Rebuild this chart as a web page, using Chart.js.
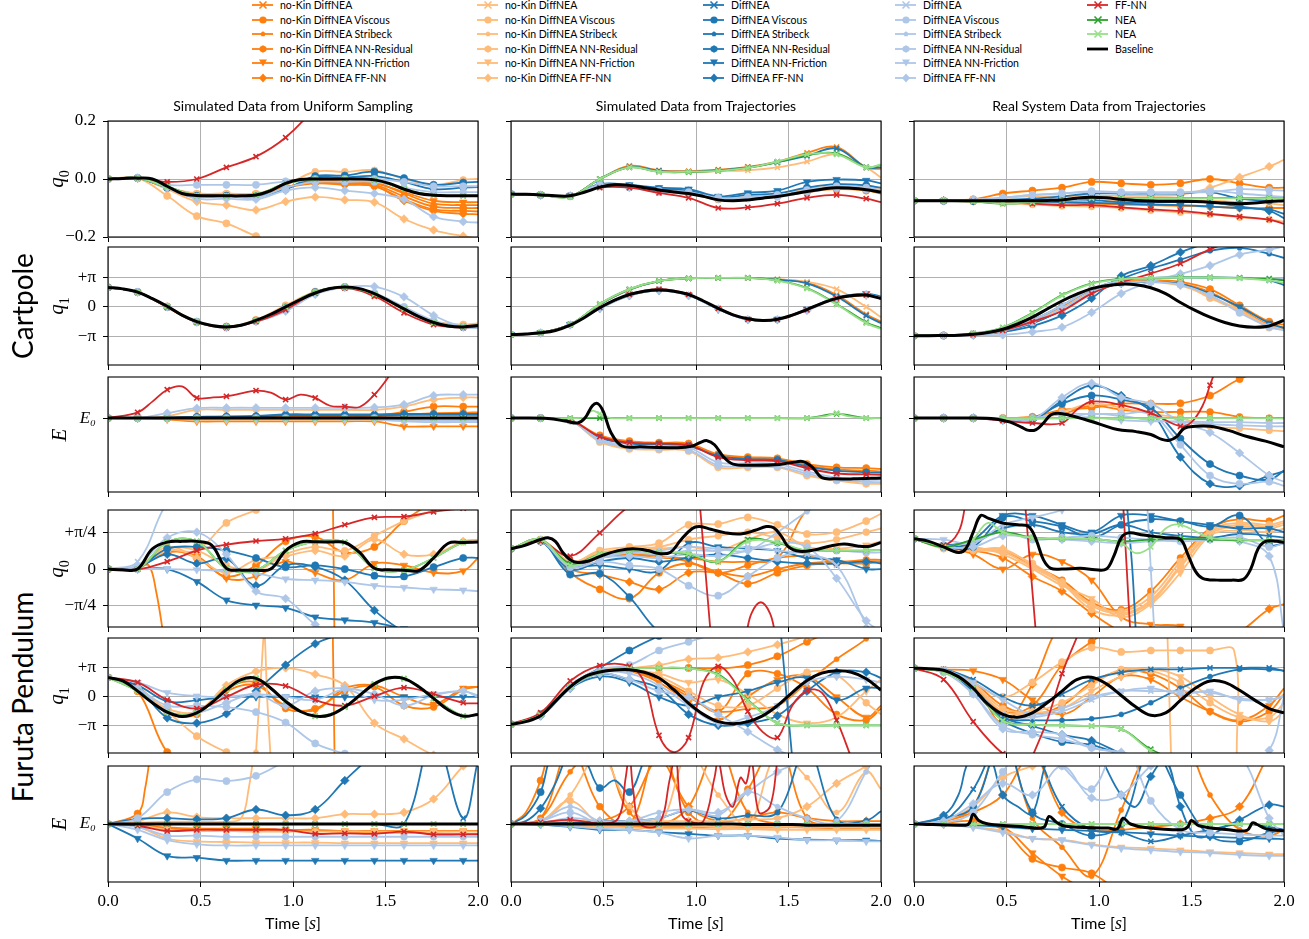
<!DOCTYPE html>
<html><head><meta charset="utf-8">
<script src="https://cdn.jsdelivr.net/npm/chart.js@4.4.0/dist/chart.umd.min.js"></script>
<style>
html,body{margin:0;padding:0;background:#fff;}
body{width:1309px;height:939px;position:relative;overflow:hidden;font-family:Lato,'DejaVu Sans',sans-serif;color:#000;}
canvas{position:absolute;}
.t{position:absolute;white-space:nowrap;line-height:1;}
.title{font-size:14px;transform:translateX(-50%);top:99px;}
.ylab{font-family:'Liberation Serif',serif;font-size:21px;font-style:italic;transform:translate(-50%,-50%) rotate(-90deg);}
.ylab sub{font-style:normal;font-size:14px;}
.rowlab{font-size:28px;transform:translate(-50%,-50%) rotate(-90deg);}
.xlab{font-size:16px;transform:translateX(-50%);top:914px;}
.leg{position:absolute;font-size:10.5px;height:14px;line-height:14px;white-space:nowrap;}
.leg svg{position:absolute;left:0;top:2px;}
.leg span{position:absolute;left:28px;top:0;}
</style></head><body>
<script>
// ---------------- DATA ----------------
const T  = [0,0.16,0.32,0.48,0.64,0.8,0.96,1.12,1.28,1.44,1.6,1.76,1.92,2.0];
const TB = [0,0.08,0.16,0.24,0.32,0.4,0.48,0.56,0.64,0.72,0.8,0.88,0.96,1.04,1.12,1.2,1.28,1.36,1.44,1.52,1.6,1.68,1.76,1.84,1.92,2.0];
const xTicks = [0,0.5,1,1.5,2];
const xTickLabels = ['0.0','0.5','1.0','1.5','2.0'];
const cpQ0Ticks = [-0.2,0,0.2];
const cpQ0Labels = ['\u22120.2','0.0','0.2'];
const piTicks = [-1,0,1];
const piLabels = ['\u2212\u03c0','0','+\u03c0'];
const pi4Labels = ['\u2212\u03c0/4','0','+\u03c0/4'];
const eTicks = [0];
const eLabels = ['E\u2080'];
const colTitles = ['Simulated Data from Uniform Sampling','Simulated Data from Trajectories','Real System Data from Trajectories'];

// Cartpole, uniform sampling
const cpUniQ0 = [
 ['K',[0,0.002,0.003,0,-0.025,-0.05,-0.057,-0.058,-0.058,-0.058,-0.055,-0.04,-0.015,-0.002,0,0,0,0,-0.003,-0.015,-0.035,-0.05,-0.056,-0.058,-0.058,-0.058]],
 ['R',[0,0.003,-0.01,0,0.04,0.077,0.143,0.25,0.4,0.55,0.7,0.85,1,1.1]],
 ['B1',[0,0.003,-0.058,-0.128,-0.153,-0.197,-0.23,-0.3,-0.35,-0.4,-0.45,-0.5,-0.55,-0.6]],
 ['B5',[0,0.003,-0.035,-0.078,-0.09,-0.107,-0.078,-0.062,-0.072,-0.08,-0.138,-0.176,-0.197,-0.205]],
 ['B3',[0,0.003,-0.03,-0.05,-0.05,-0.05,-0.02,0.025,0.025,0.03,0,-0.02,-0.003,0]],
 ['D5',[0,0.003,-0.03,-0.068,-0.068,-0.07,-0.04,-0.029,-0.04,-0.05,-0.07,-0.13,-0.147,-0.15]],
 ['D1',[0,0.003,-0.02,-0.02,-0.02,-0.02,-0.008,0,0,0,-0.01,-0.025,-0.025,-0.025]],
 ['D3',[0,0.003,-0.025,-0.06,-0.06,-0.065,-0.03,-0.01,-0.01,-0.01,-0.03,-0.045,-0.045,-0.045]],
 ['C1',[0,0.003,-0.03,-0.058,-0.058,-0.06,-0.035,0.01,0.012,0.025,0.003,-0.02,-0.012,-0.01]],
 ['C3',[0,0.003,-0.03,-0.058,-0.058,-0.06,-0.035,0.005,0.005,0.01,-0.01,-0.035,-0.03,-0.028]],
 ['A1',[0,0.003,-0.03,-0.055,-0.055,-0.055,-0.03,-0.01,-0.015,-0.02,-0.06,-0.095,-0.1,-0.1]],
 ['A2',[0,0.003,-0.03,-0.055,-0.055,-0.055,-0.03,-0.005,-0.01,-0.012,-0.05,-0.085,-0.09,-0.09]],
 ['A3',[0,0.003,-0.03,-0.052,-0.052,-0.052,-0.028,-0.012,-0.018,-0.025,-0.07,-0.105,-0.11,-0.112]],
 ['A4',[0,0.003,-0.03,-0.052,-0.052,-0.052,-0.028,-0.008,-0.01,-0.015,-0.045,-0.075,-0.08,-0.08]],
 ['A5',[0,0.003,-0.03,-0.055,-0.055,-0.055,-0.03,-0.015,-0.02,-0.025,-0.075,-0.11,-0.12,-0.122]],
 ['G',[0,0.003,-0.026,-0.057,-0.058,-0.055,-0.015,0,0,-0.003,-0.035,-0.056,-0.058,-0.058]],
 ['L',[0,0.003,-0.027,-0.057,-0.058,-0.054,-0.016,0,0.001,-0.002,-0.034,-0.056,-0.058,-0.058]]
];
const cpUniQ1 = [
 ['K',[0.66,0.61,0.5,0.28,0.02,-0.28,-0.5,-0.63,-0.68,-0.62,-0.46,-0.25,0,0.25,0.47,0.62,0.67,0.62,0.45,0.2,-0.07,-0.33,-0.53,-0.65,-0.68,-0.63]],
 ['R',[0.66,0.5,-0.02,-0.52,-0.7,-0.5,-0.1,0.47,0.64,0.36,-0.2,-0.6,-0.7,-0.66]],
 ['D5',[0.66,0.5,0,-0.52,-0.7,-0.5,-0.15,0.42,0.66,0.69,0.34,-0.29,-0.69,-0.72]],
 ['B1',[0.66,0.5,0.02,-0.5,-0.66,-0.44,0.05,0.52,0.66,0.42,-0.05,-0.48,-0.6,-0.56]],
 ['A1',[0.66,0.5,0,-0.51,-0.68,-0.46,0,0.5,0.67,0.42,-0.08,-0.52,-0.66,-0.6]],
 ['C1',[0.66,0.5,0,-0.51,-0.68,-0.47,-0.02,0.5,0.67,0.44,-0.04,-0.5,-0.68,-0.64]],
 ['D1',[0.66,0.5,0,-0.51,-0.69,-0.48,-0.05,0.48,0.67,0.47,0,-0.47,-0.68,-0.66]],
 ['G',[0.66,0.5,0,-0.51,-0.68,-0.46,0,0.5,0.67,0.43,-0.07,-0.53,-0.68,-0.63]],
 ['L',[0.66,0.5,0.01,-0.5,-0.68,-0.46,0,0.5,0.67,0.43,-0.07,-0.53,-0.68,-0.63]]
];
const cpUniE = [
 ['K',[0,0,0,0,0,0,0,0,0,0,0,0,0,0,0,0,0,0,0,0,0,0,0,0,0,0]],
 ['R',[0,0.14,0.4,0.69,0.77,0.49,0.5,0.53,0.6,0.67,0.62,0.45,0.57,0.49,0.3,0.28,0.27,0.57,0.9,1.3],[0,0.16,0.24,0.32,0.4,0.48,0.56,0.64,0.72,0.8,0.88,0.96,1.04,1.12,1.2,1.28,1.36,1.44,1.5,1.56]],
 ['D5',[0,0,0.12,0.24,0.25,0.25,0.25,0.25,0.25,0.26,0.33,0.55,0.57,0.57]],
 ['B5',[0,0,0.05,0.2,0.2,0.2,0.2,0.2,0.2,0.2,0.28,0.45,0.5,0.5]],
 ['A1',[0,0,0,0.03,0.03,0.03,0.04,0.04,0.05,0.06,0.15,0.28,0.28,0.28]],
 ['A3',[0,0,0,0.02,0.02,0.02,0.03,0.03,0.03,0.04,0.08,0.12,0.13,0.14]],
 ['C1',[0,0,0,0.02,0.03,0.04,0.07,0.07,0.07,0.07,0.08,0.08,0.08,0.08]],
 ['C5',[0,0,0.01,0.03,0.04,0.05,0.09,0.09,0.09,0.09,0.1,0.1,0.1,0.1]],
 ['A4',[0,0,-0.03,-0.08,-0.08,-0.08,-0.08,-0.08,-0.08,-0.08,-0.2,-0.2,-0.2,-0.2]],
 ['B4',[0,0,-0.02,-0.05,-0.05,-0.05,-0.05,-0.05,-0.05,-0.05,-0.06,-0.07,-0.07,-0.07]],
 ['D4',[0,0,-0.01,-0.02,-0.02,-0.02,-0.02,-0.02,-0.03,-0.03,-0.08,-0.1,-0.1,-0.1]],
 ['D1',[0,0,0,0,0,0,0,0,0,0,-0.04,-0.05,-0.05,-0.05]],
 ['G',[0,0,0,0,0,0,0,0,0,0,0,0,0,0]],
 ['L',[0,0,0,0,0,0,0,0,0,0,0,0,0,0]]
];

// Cartpole, simulated trajectories
const cpTrajQ0 = [
 ['K',[-0.052,-0.053,-0.055,-0.058,-0.058,-0.045,-0.028,-0.02,-0.022,-0.03,-0.038,-0.045,-0.05,-0.06,-0.072,-0.075,-0.072,-0.066,-0.06,-0.052,-0.043,-0.035,-0.03,-0.032,-0.037,-0.045]],
 ['A0',[-0.052,-0.055,-0.06,0,0.045,0.03,0.027,0.032,0.042,0.06,0.09,0.11,0.04,0.035]],
 ['C0',[-0.052,-0.055,-0.06,0,0.042,0.028,0.025,0.03,0.04,0.058,0.08,0.105,0.04,0.04]],
 ['G',[-0.052,-0.055,-0.06,0,0.04,0.025,0.024,0.028,0.038,0.058,0.082,0.088,0.04,0.048]],
 ['L',[-0.052,-0.055,-0.062,0,0.04,0.025,0.025,0.028,0.038,0.06,0.085,0.085,0.04,0.05]],
 ['B0',[-0.052,-0.055,-0.06,0,0.04,0.025,0.024,0.027,0.03,0.04,0.06,0.085,0.04,0.005]],
 ['C4',[-0.052,-0.055,-0.058,-0.018,-0.02,-0.03,-0.035,-0.06,-0.048,-0.04,-0.01,-0.002,-0.005,-0.015]],
 ['R',[-0.052,-0.055,-0.058,-0.03,-0.03,-0.048,-0.065,-0.1,-0.098,-0.085,-0.065,-0.055,-0.068,-0.08]],
 ['D1',[-0.052,-0.055,-0.058,-0.02,-0.028,-0.04,-0.045,-0.065,-0.062,-0.055,-0.038,-0.025,-0.03,-0.038]],
 ['D3',[-0.052,-0.055,-0.058,-0.025,-0.03,-0.045,-0.05,-0.07,-0.068,-0.062,-0.045,-0.032,-0.037,-0.045]],
 ['C1',[-0.052,-0.055,-0.058,-0.02,-0.025,-0.035,-0.04,-0.065,-0.055,-0.05,-0.03,-0.018,-0.022,-0.03]],
 ['B4',[-0.052,-0.055,-0.058,-0.022,-0.03,-0.04,-0.045,-0.068,-0.06,-0.05,-0.035,-0.025,-0.025,-0.035]],
 ['A1',[-0.052,-0.055,-0.058,-0.025,-0.028,-0.042,-0.05,-0.07,-0.065,-0.058,-0.045,-0.035,-0.04,-0.05]]
];
const cpTrajQ1 = [
 ['K',[-0.94,-0.92,-0.88,-0.8,-0.62,-0.35,-0.03,0.23,0.42,0.53,0.57,0.53,0.42,0.2,-0.05,-0.27,-0.4,-0.46,-0.42,-0.28,-0.09,0.12,0.29,0.38,0.4,0.28]],
 ['G',[-0.94,-0.88,-0.6,0.1,0.6,0.88,0.97,0.98,0.98,0.9,0.64,0.1,-0.52,-0.72]],
 ['L',[-0.94,-0.88,-0.6,0.1,0.6,0.88,0.97,0.98,0.98,0.89,0.62,0.08,-0.55,-0.75]],
 ['C0',[-0.94,-0.88,-0.6,0.08,0.58,0.87,0.97,0.98,0.98,0.92,0.8,0.35,-0.3,-0.55]],
 ['A0',[-0.94,-0.88,-0.6,0.08,0.58,0.87,0.97,0.98,0.98,0.93,0.82,0.4,-0.25,-0.5]],
 ['B0',[-0.94,-0.88,-0.6,0.08,0.58,0.87,0.97,0.98,0.98,0.94,0.85,0.6,0,-0.35]],
 ['R',[-0.94,-0.88,-0.6,-0.02,0.42,0.6,0.42,-0.05,-0.42,-0.43,-0.1,0.3,0.4,0.28]],
 ['C4',[-0.94,-0.88,-0.6,-0.05,0.38,0.55,0.4,-0.08,-0.43,-0.42,-0.08,0.32,0.45,0.35]],
 ['D5',[-0.94,-0.88,-0.61,-0.06,0.38,0.55,0.38,-0.07,-0.43,-0.43,-0.12,0.28,0.42,0.3]],
 ['B4',[-0.94,-0.88,-0.6,-0.04,0.4,0.56,0.4,-0.06,-0.42,-0.44,-0.1,0.29,0.38,0.3]]
];
const cpTrajE = [
 ['K',[0,-0.01,-0.08,-0.12,0,0.3,0.35,0.15,-0.35,-0.68,-0.7,-0.72,-0.68,-0.6,-0.55,-0.65,-0.95,-1.12,-1.15,-1.13,-1.08,-1.06,-1.2,-1.45,-1.48,-1.48,-1.46],[0,0.2,0.3,0.36,0.4,0.44,0.47,0.5,0.54,0.6,0.7,0.9,0.98,1.02,1.06,1.1,1.15,1.2,1.3,1.45,1.52,1.58,1.63,1.68,1.75,1.85,2.0]],
 ['G',[0,0,0,0,0,0,0,0,0,0,0,0.1,0,0]],
 ['L',[0,0,0,0.02,0.18,0.1,0,0,0,0,0,0,0,0,0.05,0.12,0.05,0,0],[0,0.16,0.32,0.4,0.44,0.48,0.54,0.64,0.8,0.96,1.12,1.28,1.44,1.6,1.7,1.76,1.82,1.92,2.0]],
 ['A1',[0,0,-0.05,-0.42,-0.56,-0.6,-0.62,-0.88,-0.95,-0.98,-1.12,-1.2,-1.22,-1.24]],
 ['R',[0,0,-0.05,-0.45,-0.6,-0.62,-0.66,-0.95,-1.03,-1.05,-1.22,-1.35,-1.37,-1.38]],
 ['C1',[0,0,-0.05,-0.48,-0.62,-0.64,-0.68,-0.92,-1.0,-1.02,-1.18,-1.28,-1.32,-1.33]],
 ['D1',[0,0,-0.06,-0.55,-0.72,-0.75,-0.78,-1.15,-1.17,-1.18,-1.35,-1.5,-1.55,-1.56]],
 ['B1',[0,0,-0.06,-0.58,-0.75,-0.77,-0.8,-1.2,-1.2,-1.2,-1.4,-1.52,-1.6,-1.6]],
 ['D3',[0,0,-0.05,-0.52,-0.68,-0.7,-0.72,-1.08,-1.1,-1.12,-1.3,-1.45,-1.5,-1.5]],
 ['A3',[0,0,-0.05,-0.45,-0.58,-0.62,-0.64,-0.9,-0.98,-1.0,-1.15,-1.25,-1.28,-1.3]]
];

// Cartpole, real system
const cpRealQ0 = [
 ['K',[-0.075,-0.075,-0.075,-0.075,-0.075,-0.075,-0.075,-0.075,-0.075,-0.074,-0.072,-0.066,-0.063,-0.065,-0.07,-0.074,-0.076,-0.077,-0.077,-0.078,-0.08,-0.083,-0.085,-0.083,-0.078,-0.075]],
 ['B5',[-0.075,-0.075,-0.07,-0.065,-0.06,-0.06,-0.058,-0.058,-0.058,-0.055,-0.03,0.006,0.043,0.066]],
 ['A1',[-0.075,-0.075,-0.07,-0.05,-0.04,-0.03,-0.01,-0.015,-0.02,-0.015,0,-0.015,-0.03,-0.03]],
 ['D1',[-0.075,-0.075,-0.072,-0.065,-0.055,-0.05,-0.042,-0.045,-0.045,-0.045,-0.045,-0.035,-0.038,-0.04]],
 ['D3',[-0.075,-0.075,-0.072,-0.065,-0.055,-0.05,-0.045,-0.048,-0.048,-0.048,-0.04,-0.05,-0.058,-0.062]],
 ['C1',[-0.075,-0.075,-0.075,-0.072,-0.068,-0.06,-0.05,-0.05,-0.05,-0.05,-0.045,-0.068,-0.075,-0.075]],
 ['C5',[-0.075,-0.075,-0.075,-0.074,-0.072,-0.07,-0.072,-0.08,-0.08,-0.08,-0.08,-0.095,-0.11,-0.135]],
 ['C4',[-0.075,-0.075,-0.075,-0.076,-0.078,-0.08,-0.082,-0.085,-0.088,-0.09,-0.095,-0.1,-0.105,-0.12]],
 ['G',[-0.075,-0.075,-0.078,-0.085,-0.08,-0.072,-0.065,-0.066,-0.066,-0.066,-0.066,-0.066,-0.066,-0.066]],
 ['L',[-0.075,-0.075,-0.078,-0.084,-0.08,-0.072,-0.066,-0.067,-0.067,-0.067,-0.067,-0.067,-0.067,-0.066]],
 ['R',[-0.075,-0.075,-0.077,-0.08,-0.085,-0.09,-0.09,-0.098,-0.105,-0.11,-0.12,-0.13,-0.14,-0.155]],
 ['B3',[-0.075,-0.075,-0.077,-0.082,-0.088,-0.093,-0.095,-0.1,-0.108,-0.115,-0.122,-0.132,-0.14,-0.147]],
 ['A3',[-0.075,-0.075,-0.076,-0.078,-0.08,-0.082,-0.085,-0.088,-0.09,-0.093,-0.095,-0.1,-0.1,-0.1]],
 ['B4',[-0.075,-0.075,-0.076,-0.078,-0.078,-0.08,-0.078,-0.07,-0.07,-0.072,-0.075,-0.08,-0.085,-0.09]]
];
const cpRealQ1 = [
 ['K',[-0.98,-0.98,-0.97,-0.96,-0.93,-0.87,-0.76,-0.58,-0.35,-0.07,0.2,0.43,0.62,0.72,0.77,0.75,0.65,0.45,0.15,-0.12,-0.35,-0.53,-0.65,-0.69,-0.65,-0.45]],
 ['G',[-0.98,-0.97,-0.9,-0.7,-0.2,0.4,0.8,0.95,0.98,1.0,1.0,0.98,0.95,0.9]],
 ['L',[-0.98,-0.97,-0.9,-0.7,-0.22,0.38,0.78,0.94,0.98,0.99,0.99,0.97,0.9,0.82]],
 ['C5',[-0.98,-0.97,-0.95,-0.85,-0.65,-0.29,0.29,1.05,1.4,1.85,2.2,2.5,2.5,2.5]],
 ['R',[-0.98,-0.97,-0.94,-0.8,-0.5,-0.14,0.45,0.83,1.13,1.47,1.95,2.3,2.5,2.5]],
 ['D5',[-0.98,-0.97,-0.96,-0.95,-0.85,-0.69,-0.19,0.45,0.85,1.12,1.4,1.77,1.94,2.05]],
 ['C2',[-0.98,-0.97,-0.94,-0.82,-0.55,-0.1,0.5,0.95,1.3,1.6,1.9,2.0,1.8,1.66]],
 ['D0',[-0.98,-0.97,-0.93,-0.78,-0.45,0.05,0.6,0.9,0.98,0.99,1.0,0.99,0.97,0.96]],
 ['C0',[-0.98,-0.97,-0.93,-0.78,-0.45,0.05,0.6,0.9,0.98,1.0,0.99,0.98,0.9,0.74]],
 ['A1',[-0.98,-0.97,-0.94,-0.8,-0.48,0,0.55,0.85,0.9,0.85,0.6,0.05,-0.5,-0.6]],
 ['B1',[-0.98,-0.97,-0.94,-0.81,-0.5,-0.05,0.52,0.82,0.86,0.78,0.3,-0.15,-0.7,-0.75]],
 ['D1',[-0.98,-0.97,-0.94,-0.82,-0.52,-0.08,0.5,0.8,0.85,0.75,0.4,-0.2,-0.68,-0.8]],
 ['A3',[-0.98,-0.97,-0.94,-0.8,-0.48,0,0.55,0.85,0.88,0.8,0.5,-0.05,-0.62,-0.68]],
 ['B4',[-0.98,-0.97,-0.94,-0.81,-0.5,-0.05,0.52,0.8,0.84,0.72,0.35,-0.1,-0.65,-0.7]],
 ['C4',[-0.98,-0.97,-0.94,-0.82,-0.55,-0.1,0.48,0.8,0.85,0.78,0.45,0,-0.55,-0.72]]
];
const cpRealE = [
 ['K',[0,0,-0.02,-0.1,-0.22,-0.3,-0.28,-0.12,0.08,0.12,0.07,-0.03,-0.14,-0.28,-0.33,-0.4,-0.52,-0.54,-0.45,-0.25,-0.2,-0.2,-0.3,-0.45,-0.56,-0.7],[0,0.3,0.44,0.52,0.58,0.62,0.66,0.7,0.74,0.78,0.84,0.92,1.0,1.1,1.2,1.28,1.34,1.38,1.42,1.46,1.52,1.6,1.7,1.8,1.9,2.0]],
 ['R',[0,0,0,-0.06,-0.12,-0.12,0.2,0.4,0.32,0.12,-0.2,-0.1,0.3,0.8,1.3],[0,0.16,0.32,0.48,0.64,0.8,0.88,0.96,1.12,1.28,1.44,1.5,1.56,1.6,1.64]],
 ['C5',[0,0,0,-0.05,-0.05,0.42,0.79,0.55,0.16,-0.95,-1.6,-1.65,-1.4,-1.3]],
 ['D5',[0,0,0,-0.05,-0.03,0.5,0.85,0.5,0.35,-0.1,-0.35,-0.85,-1.4,-1.55]],
 ['C1',[0,0,0,-0.04,0,0.35,0.55,0.45,0.25,-0.5,-1.12,-1.4,-1.5,-1.28]],
 ['D1',[0,0,0,-0.03,0,0.1,0.1,0.1,0.1,-0.65,-1.4,-1.6,-1.55,-1.65]],
 ['A1',[0,0,0,0,0.03,0.2,0.25,0.35,0.35,0.36,0.55,0.95,1.2,1.3]],
 ['A3',[0,0,0,0,0.02,0.1,0.3,0.2,0.15,0.15,0.15,0.03,0,0]],
 ['B3',[0,0,0,0,0,0.15,0.35,0.25,0.1,0,-0.2,-0.25,-0.3,-0.32]],
 ['D3',[0,0,0,0,0,0,0.1,0.05,-0.05,-0.1,-0.15,-0.18,-0.2,-0.2]],
 ['D4',[0,0,0,-0.02,-0.02,0,0.02,-0.05,-0.08,-0.08,-0.1,-0.1,-0.12,-0.12]],
 ['G',[0,0,0,0,0,0,0,0,0,0,0,0,0,0]],
 ['L',[0,0,0,0,0,0,0,0,0,0,0,0,0,-0.01]]
];

// Furuta pendulum, uniform sampling  (q0 in units of pi/4, q1 in units of pi)
const fpUniQ0 = [
 ['K',[0,-0.02,0,0.55,0.73,0.75,0.75,0.65,0.02,-0.03,-0.03,0,0.5,0.73,0.74,0.73,0.72,0.45,0.02,-0.02,-0.03,-0.04,0.3,0.7,0.72,0.73]],
 ['R',[0,-0.01,0.2,0.5,0.66,0.76,0.82,0.96,1.2,1.4,1.42,1.55,1.65,1.7]],
 ['C4',[0,0,0,-0.34,-0.84,-0.98,-1.05,-1.3,-1.38,-1.45,-1.62,-1.7,-1.8,-1.85]],
 ['D4',[0,0,0,-0.02,-0.05,-0.12,-0.27,-0.3,-0.35,-0.45,-0.5,-0.55,-0.57,-0.6]],
 ['D0',[0,0.2,1.8,2.5,2.5,2.5,2.5,2.5,2.5,2.5,2.5,2.5,2.5,2.5]],
 ['D5',[0,0.1,0.85,1.0,0.4,-0.6,-0.8,-1.5,-1.9,-2,-2,-2,-2,-2]],
 ['C5',[0,0.05,0.4,0.15,0.28,-0.45,0.1,0.06,-0.3,-1.12,-1.7,-2,-2,-2]],
 ['C1',[0,0.05,0.55,0.6,0.5,0.3,0.05,0.1,0,-0.18,-0.2,0.05,0.3,0.3]],
 ['A3',[0,0.03,0.1,-0.6,-1.8],[0,0.16,0.22,0.26,0.3]],
 ['A1',[0,0.05,0.5,0.3,-0.2,0.1,0.75,0.87,0.45,0.6,1.3,1.8,2,2]],
 ['A4',[0,0.05,0.45,0.35,-0.25,-0.2,0.2,-0.1,-0.3,0.15,0.1,-0.1,-0.05,0.3]],
 ['A2',[2.2,0,-2.2],[1.215,1.22,1.225]],
 ['B1',[0,0.05,0.5,0.5,1.25,1.6,2,2,2,2,2,2,2,2]],
 ['B5',[0,0.05,0.6,0.3,-0.1,0.25,0.35,0.5,0.35,0.8,0.4,0.4,0.75,0.8]],
 ['B3',[0,0.05,0.55,0.5,0.1,-0.05,0.4,0.6,0.5,0.9,1.3,1.6,2,2]],
 ['G',[0,0,0.73,0.75,0.02,-0.03,0.5,0.74,0.72,0.02,-0.03,0.3,0.72,0.73]],
 ['L',[0,0,0.73,0.75,0.02,-0.03,0.5,0.74,0.72,0.02,-0.03,0.3,0.72,0.73]]
];
const fpUniQ1 = [
 ['K',[0.67,0.55,0.2,-0.2,-0.52,-0.67,-0.55,-0.2,0.25,0.6,0.64,0.3,-0.15,-0.5,-0.66,-0.62,-0.35,0.05,0.45,0.66,0.63,0.35,-0.05,-0.45,-0.66,-0.6]],
 ['R',[0.67,0.5,-0.1,-0.4,0,0.42,0.38,-0.1,-0.3,0.03,0.32,0.1,-0.2,-0.22]],
 ['C5',[0.67,0.3,-0.72,-0.9,-0.58,0.2,1.1,1.83,2.2,2.5,2.5,2.5,2.5,2.5]],
 ['D1',[0.67,0.3,-0.3,-0.3,-0.35,-0.52,-0.88,-1.6,-1.95,-2.2,-2.2,-2.2,-2.2,-2.2]],
 ['B1',[0.67,0.25,-0.5,-1.35,-1.9,-2.3,-2.5,-2.5,-2.5,-2.5,-2.5,-2.5,-2.5,-2.5]],
 ['A1',[0.67,0.2,-1.9,-2.5,-2.5,-2.5,-2.5,-2.5,-2.5,-2.5,-2.5,-2.5,-2.5,-2.5]],
 ['B5',[0.67,0.3,-0.4,-0.5,0.4,0.88,1.0,0.78,0.4,-0.9,-1.45,-2.0,-2.3,-2.4]],
 ['D4',[0.67,0.5,0.15,0.03,0,0.1,0,-0.1,0.25,-0.1,-0.1,0.1,0.2,0.05]],
 ['C4',[0.67,0.4,-0.15,-0.12,0,0,0,0,0,0,0,0,0,0]],
 ['A3',[0.67,0.3,-0.55,-0.6,0.3,0.5,-0.4,-0.4,0.2,0.35,-0.3,-0.35,0.25,0.35]],
 ['D5',[0.67,0.3,-0.5,-0.55,-0.2,0.1,-0.3,0.2,0.3,0.1,-0.3,0.05,0.2,0]],
 ['A4',[0.67,0.35,-0.5,-0.55,0.2,0.4,-0.3,-0.45,0.3,0.4,0,-0.25,0.3,0.35]],
 ['A2',[2.2,0,-2.2],[1.215,1.22,1.225]],
 ['B2',[-1.9,1.0,2.2,0,-2.2],[0.8,0.83,0.845,0.86,0.88]],
 ['G',[0.67,0.2,-0.52,-0.55,0.25,0.64,-0.15,-0.66,-0.35,0.45,0.63,-0.05,-0.66,-0.6]],
 ['L',[0.67,0.2,-0.52,-0.55,0.25,0.64,-0.15,-0.66,-0.35,0.45,0.63,-0.05,-0.66,-0.6]]
];
const fpUniE = [
 ['K',[0,0,0,0,0,0,0,0,0,0,0,0,0,0,0,0,0,0,0,0,0,0,0,0,0,0]],
 ['C5',[0,0.09,0.1,0.08,0.1,0.25,0.15,0.25,0.75,1.2,1.5,1.5,1.5,1.5]],
 ['D1',[0,0.1,0.55,0.77,0.74,0.83,1.1,1.5,1.5,1.5,1.5,1.5,1.5,1.5]],
 ['A1',[0,0.18,0.6,1.5],[0,0.16,0.2,0.24]],
 ['C0',[0,0,0,0,0,0,0,0,0,0,0,1.5,0.1,1.1]],
 ['B5',[0,0.05,0.2,0.12,0.1,0.1,0.1,0.1,0.17,0.17,0.2,0.43,1.0,1.2]],
 ['B0',[0,0.02,0.04,0.04,0.04,0.1,0.6,1.5],[0,0.16,0.32,0.48,0.64,0.72,0.76,0.8]],
 ['R',[0,-0.03,-0.12,-0.1,-0.1,-0.1,-0.1,-0.17,-0.16,-0.17,-0.13,-0.18,-0.18,-0.18]],
 ['A3',[0,-0.02,-0.08,-0.1,-0.1,-0.12,-0.12,-0.12,-0.14,-0.15,-0.15,-0.16,-0.17,-0.17]],
 ['D3',[0,-0.05,-0.2,-0.2,-0.22,-0.22,-0.22,-0.22,-0.22,-0.22,-0.22,-0.22,-0.22,-0.22]],
 ['B4',[0,-0.05,-0.25,-0.3,-0.31,-0.32,-0.32,-0.32,-0.33,-0.33,-0.33,-0.33,-0.33,-0.33]],
 ['D4',[0,-0.1,-0.28,-0.35,-0.37,-0.37,-0.37,-0.37,-0.37,-0.37,-0.37,-0.37,-0.37,-0.37]],
 ['C4',[0,-0.25,-0.55,-0.58,-0.63,-0.63,-0.63,-0.63,-0.63,-0.63,-0.63,-0.63,-0.63,-0.63]],
 ['B3',[0,-0.02,-0.1,-0.12,-0.12,-0.13,-0.13,-0.13,-0.13,-0.13,-0.13,-0.13,-0.13,-0.13]],
 ['A4',[0,-0.02,-0.06,-0.08,-0.08,-0.08,-0.1,-0.1,-0.12,-0.12,-0.12,-0.12,-0.12,-0.12]],
 ['G',[0,0,0,0,0,0,0,0,0,0,0,0,0,0]],
 ['L',[0,0,0,0,0,0,0,0,0,0,0,0,0,0]]
];

// Furuta pendulum, simulated trajectories
const fpTrajQ0 = [
 ['K',[0.55,0.65,0.8,0.85,0.75,0.45,0.25,0.18,0.22,0.38,0.5,0.55,0.5,0.42,0.45,0.8,1.1,1.15,1.08,0.98,0.95,1.05,1.15,1.12,0.9,0.6,0.48,0.52,0.62,0.68,0.62,0.62,0.72],[0,0.08,0.16,0.2,0.24,0.28,0.32,0.36,0.42,0.5,0.58,0.66,0.74,0.8,0.86,0.92,0.98,1.02,1.08,1.16,1.24,1.32,1.38,1.42,1.46,1.5,1.56,1.64,1.72,1.8,1.88,1.94,2.0]],
 ['R',[0.55,0.75,0.35,0.98,1.7,2,2,2,2,2,2,2,2,2]],
 ['R',[1.8,0,-1.8],[1.02,1.05,1.08]],
 ['R',[-1.8,-1.2,-0.9,-1.2,-1.8],[1.27,1.3,1.35,1.4,1.43]],
 ['G',[0.55,0.8,0.15,0.4,0.5,0.45,0.4,0.2,0.8,0.7,0.5,0.5,0.5,0.52]],
 ['L',[0.55,0.8,0.1,0.4,0.5,0.45,0.42,0.2,0.75,0.72,0.5,0.5,0.5,0.52]],
 ['B1',[0.55,0.8,0.2,0.5,0.6,0.7,1.2,1.22,1.4,1.2,0.95,1.0,1.3,1.5]],
 ['A2',[0.55,0.8,0.1,0.3,0.4,0.3,0.3,0.2,0.2,0.3,1.6,2,2,2]],
 ['D2',[0.55,0.8,0.1,0.3,0.45,0.5,0.6,0.55,0.5,1.0,1.55,2,2,2]],
 ['C1',[0.55,0.75,-0.15,-0.12,-0.76,-1.7,-2,-2,-2,-2,-2,-2,-2,-2]],
 ['A1',[0.55,0.75,-0.1,-0.55,-0.8,-0.1,0.15,-0.1,-0.4,-0.1,0.1,0.15,0.15,0.2]],
 ['A5',[0.55,0.75,0,-0.15,-0.35,-0.55,-0.1,-0.1,-0.2,0,0.15,0.2,0.2,0.2]],
 ['D1',[0.55,0.75,0.05,0.2,0.1,0,-0.45,-0.72,-0.2,0.3,0.5,0.5,0.45,0.45]],
 ['D5',[0.55,0.78,0.1,0.3,0.35,0.3,0.4,0.35,0.5,0.7,0.6,-0.25,-1.4,-1.7]],
 ['C5',[0.55,0.75,0,0.2,0.3,0.2,0.3,0.4,0.3,0.2,0.15,0.15,0.2,0.15]],
 ['C4',[0.55,0.75,0.1,0.1,0,-0.05,0.7,0.6,0.55,0.5,0.3,0.25,0,0]],
 ['D0',[0.55,0.78,0.15,0.35,0.45,0.4,0.5,0.5,0.6,0.5,0.4,0.1,-1.5,-2]],
 ['B3',[0.55,0.8,0.2,0.45,0.55,0.6,0.8,0.9,1.0,0.85,0.7,0.8,1.0,1.1]],
 ['B4',[0.55,0.8,0.15,0.35,0.5,0.55,0.6,0.5,0.8,1.0,0.6,0.55,0.65,0.75]],
 ['A3',[0.55,0.78,0.05,0.3,0.4,0.35,0.2,-0.1,0.1,0.3,0.35,0.2,0.25,0.25]]
];
const fpTrajQ1 = [
 ['K',[-0.94,-0.85,-0.65,-0.15,0.35,0.7,0.86,0.93,0.94,0.85,0.65,0.25,-0.22,-0.6,-0.85,-0.92,-0.85,-0.65,-0.3,0.15,0.57,0.82,0.9,0.85,0.63,0.23]],
 ['R',[-0.94,-0.54,0.55,1.08,1.06,0.5,-1.32,-1.9,-1.4,0.5,1.05,0.6,-0.5,-1.2,-1.4,-0.3,0.22,0.15,-0.8,-2.1],[0,0.16,0.32,0.48,0.64,0.72,0.8,0.88,0.96,1.04,1.12,1.2,1.28,1.36,1.44,1.52,1.6,1.68,1.76,1.84]],
 ['C1',[-0.94,-0.6,0.4,1.0,1.6,2.1,2.5,2.5,2.5,2.5,2.5,2.5,2.5,2.5]],
 ['D1',[-0.94,-0.6,0.4,0.95,1.1,1.6,1.9,2.2,2.5,2.5,2.5,2.5,2.5,2.5]],
 ['B5',[-0.94,-0.6,0.4,0.9,0.98,1.1,1.3,1.35,1.55,1.8,2.1,2.5,2.5,2.5]],
 ['A1',[-0.94,-0.6,0.4,0.9,0.98,1.0,1.0,0.98,1.1,1.4,1.9,2.3,2.5,2.5]],
 ['A2',[-0.94,-0.6,0.4,0.85,0.9,0.6,0,-0.5,-0.4,-0.3,0.5,1.3,2.0,2.5]],
 ['G',[-0.94,-0.62,0.35,0.86,0.97,1.0,0.98,0.78,-0.1,-0.9,-0.98,-0.98,-0.98,-0.98]],
 ['L',[-0.94,-0.62,0.35,0.86,0.97,1.0,0.98,0.75,-0.12,-0.9,-0.98,-0.98,-0.98,-0.98]],
 ['C4',[-0.94,-0.65,0.3,0.7,0.5,0,-0.3,0,0.2,0.5,0.65,-0.1,0.3,0.3]],
 ['C5',[-0.94,-0.65,0.3,0.8,0.6,0.3,-0.6,-0.98,-0.9,-0.65,0.2,0.85,0.85,0.65]],
 ['C0',[2.1,0,-2.1],[1.46,1.49,1.52]],
 ['D5',[-0.94,-0.65,0.3,0.8,0.6,0.2,0,-0.6,-1.2,-1.82,-2.2,-2.5,-2.5,-2.5]],
 ['A3',[-0.94,-0.62,0.35,0.85,0.9,0.6,0.1,-0.5,0.8,0.8,0.3,-0.6,-0.8,-0.4]],
 ['A4',[-0.94,-0.62,0.35,0.85,0.88,0.5,-0.2,-0.8,0,0.6,0.7,0,-0.7,-0.3]],
 ['B3',[-0.94,-0.62,0.35,0.85,0.9,0.7,0.2,-0.3,-0.3,0.3,0.85,0.75,-0.2,-0.6]],
 ['B4',[-0.94,-0.62,0.35,0.85,0.92,0.8,0.5,0.6,0.1,-0.6,-0.9,-0.7,0.2,0.6]],
 ['D4',[-0.94,-0.62,0.35,0.84,0.8,0.4,-0.3,-0.9,-0.7,-0.3,0.5,0.7,0.6,0.5]]
];
const fpTrajE = [
 ['K',[0,0,0,0,0,0,0,0,0,0,0,0,0,0,0,0,-0.01,-0.01,-0.01,-0.01,-0.02,-0.02,-0.02,-0.02,-0.02,-0.02]],
 ['A1',[0,0.2,0.75,1.2,1.5],[0,0.08,0.16,0.2,0.24]],
 ['C1',[0,0.15,0.55,1.2,1.4,1.1,0.62,0.75,0.55,1.1,1.5],[0,0.08,0.16,0.22,0.3,0.4,0.48,0.56,0.64,0.72,0.78]],
 ['C5',[0,0.05,0.27,0.7,1.2],[0,0.08,0.16,0.24,0.3]],
 ['B3',[0,0.05,0.4,0,-0.02,-0.03,-0.03,-0.05,-0.05,-0.05,-0.05,-0.06,-0.06,-0.06]],
 ['D3',[0,0.05,0.2,0,0,0,0,0,0,0,0,0,0,0]],
 ['R',[0,0.03,0.07,0.01,0.1,0.8,1.2,0.6,0,0,0.8,1.2,0.2,0.05,0.05,0.8,1.1,0.5,0.3,0.8,0.7,1.1,0.2,0.3,1.1],[0,0.16,0.32,0.48,0.58,0.62,0.64,0.66,0.7,0.8,0.86,0.89,0.92,0.96,1.04,1.1,1.12,1.16,1.2,1.24,1.27,1.3,1.34,1.4,1.44]],
 ['A5',[0,0.02,0.05,0.05,0.3,1.1,0.3,0.05,0.1,0.2,0.1,0.05,0.05,0.05]],
 ['A3',[0,0.1,1.3,0.3,0,1.3,0.2,0,0.6,1.4,0.1,0,0,0]],
 ['D5',[0,0.02,0.1,0.05,0.05,0.1,0.25,0.2,0.55,0.9,1.1,1.3,1.5,1.5]],
 ['D2',[0,0.05,0.3,0.05,0.05,0.2,0.25,0.15,0.55,0.3,0.1,0.05,0.9,1.3]],
 ['B5',[0,0.02,0.05,0.05,0.05,0.05,0.05,0.05,0.08,0.1,0.3,0.7,1.0,1.2]],
 ['C2',[0,0,0.02,0.05,0.05,0.1,0.23,0.1,0.15,0.2,1.3,0.08,0.06,0.22]],
 ['A2',[0,0.1,0.9,1.3,0.2,0,0.3,1.3,0.2,0,0,0,0,0]],
 ['B2',[0,0.05,0.5,1.2,0.3,0,1.2,0.5,0,1.2,0.8,0.2,0.9,0.6]],
 ['C4',[0,-0.01,-0.05,-0.1,-0.1,-0.14,-0.17,-0.2,-0.2,-0.25,-0.27,-0.28,-0.28,-0.29]],
 ['D4',[0,-0.01,-0.04,-0.08,-0.1,-0.15,-0.25,-0.2,-0.2,-0.23,-0.28,-0.28,-0.3,-0.3]],
 ['A4',[0,0,-0.02,-0.03,-0.04,-0.05,-0.05,-0.06,-0.06,-0.06,-0.06,-0.07,-0.07,-0.07]],
 ['B4',[0,0,-0.03,-0.05,-0.06,-0.08,-0.08,-0.09,-0.09,-0.1,-0.1,-0.1,-0.1,-0.1]],
 ['G',[0,0,0,0,0,0,0,0,0,0,0,0,0,0]],
 ['L',[0,0,0,0,0,0,0,0,0,0,0,0,0,0]]
];

// Furuta pendulum, real system
const fpRealQ0 = [
 ['K',[0.82,0.75,0.6,0.45,0.55,1.0,1.45,1.38,1.25,1.2,1.15,0.8,0.25,0.02,0,0.02,-0.02,0,0.35,0.85,0.98,0.92,0.85,0.8,0.4,-0.05,-0.25,-0.3,-0.3,-0.28,0,0.55,0.75,0.75,0.72],[0,0.08,0.16,0.24,0.28,0.32,0.36,0.4,0.48,0.56,0.62,0.66,0.7,0.74,0.8,0.9,0.98,1.04,1.08,1.12,1.16,1.24,1.36,1.44,1.48,1.52,1.56,1.64,1.72,1.78,1.82,1.86,1.9,1.96,2.0]],
 ['L',[0.82,0.6,0.45,0.8,1.25,1.0,0.85,0.82,0.82,0.7,0.43,0.6,1.1,1.2,0.85,0.8,0.78,0.78],[0,0.16,0.24,0.32,0.4,0.48,0.64,0.8,0.96,1.12,1.2,1.28,1.36,1.44,1.6,1.76,1.92,2.0]],
 ['G',[0.82,0.6,0.8,1.0,0.85,0.82,0.82,0.75,0.8,0.82,0.8,0.78,0.78,0.78]],
 ['B1',[0.82,0.6,0.55,0.5,0.15,-0.35,-0.95,-1.15,-0.75,0.2,1.05,1.25,1.2,1.3]],
 ['B3',[0.82,0.55,0.5,0.45,0.05,-0.4,-1.1,-1.25,-0.9,0.05,0.95,1.15,1.1,1.2]],
 ['B4',[0.82,0.62,0.6,0.4,0,-0.45,-0.8,-1.3,-0.95,-0.1,0.9,1.05,1.0,1.1]],
 ['A3',[0.82,0.6,0.55,0.5,0.1,-0.3,-0.9,-1.1,-0.6,0.3,1.1,1.35,1.3,1.45]],
 ['B5',[0.82,0.58,0.52,0.55,0.1,-0.38,-1.0,-1.2,-0.85,0.1,1.0,1.2,1.15,1.25]],
 ['A4',[0.82,0.6,0.4,0,0.4,0.2,-0.3,-1.3,-1.5,-1.55,-1.9,-2,-2,-2]],
 ['A5',[0.82,0.6,0.5,0.3,-0.2,-0.6,-1.2,-1.7,-2,-2,-2,-1.7,-1.08,-0.95]],
 ['C1',[0.82,0.6,0.6,1.4,1.3,1.15,0.85,1.2,1.35,1.3,1.15,1.45,0.65,0.7]],
 ['C4',[0.82,0.65,0.8,1.45,1.45,1.2,1.0,1.45,1.45,1.3,1.2,1.1,1.1,1.0]],
 ['C0',[0.82,0.6,0.7,1.1,1.2,1.0,0.95,1.2,1.0,0.9,0.85,0.95,0.9,0.85]],
 ['R',[0.82,0.65,1.0,1.8],[0,0.16,0.24,0.28]],
 ['R',[1.8,0,-1.8],[0.6,0.63,0.66]],
 ['R',[1.8,0,-1.8],[1.13,1.15,1.17]],
 ['C2',[1.8,0,-1.8],[1.15,1.18,1.2]],
 ['D2',[1.8,0,-1.8],[1.26,1.28,1.3]],
 ['D5',[0.82,0.6,0.6,0.9,0.85,0.8,0.75,0.7,0.75,0.8,0.8,0.75,0.35,-1.7]],
 ['D4',[0.82,0.8,0.7,1.2,1.4,1.6,2,2,2,2,2,2,2,2]],
 ['D1',[0.82,0.62,0.75,1.0,0.8,0.85,0.9,0.85,0.8,0.75,0.8,0.85,0.6,0.7]]
];
const fpRealQ1 = [
 ['K',[0.99,0.97,0.92,0.7,0.3,-0.25,-0.6,-0.7,-0.55,-0.2,0.2,0.6,0.68,0.45,0.05,-0.35,-0.63,-0.55,-0.12,0.3,0.55,0.5,0.23,-0.1,-0.4,-0.55]],
 ['L',[0.99,0.85,0.3,-0.82,-0.95,-0.98,-1.0,-1.1,-1.85,-2.2,-2.2,-2.2,-2.2,-2.2]],
 ['G',[0.99,0.86,0.3,-0.8,-0.95,-0.98,-1.0,-1.1,-1.8,-2.2,-2.2,-2.2,-2.2,-2.2]],
 ['R',[0.99,0.6,-0.85,-1.95,-2.5,-2.5,-2.5,-2.5,-2.5,-2.5,-2.5,-2.5,-2.5,-2.5]],
 ['R',[-2.05,-0.8,0.8,2.05],[0.64,0.72,0.8,0.88]],
 ['A5',[0.99,0.9,0.5,-0.9,0.44,2.5,2.5,2.5,2.5,2.5,2.5,2.5,2.5,2.5]],
 ['A1',[0.99,0.9,0.4,-0.5,-0.3,1.1,1.9,2.5,2.5,2.5,2.5,2.5,2.5,2.5]],
 ['B1',[0.99,0.9,0.5,0,0.5,1.2,1.7,1.55,1.6,1.6,1.6,1.6,-2.2],[0,0.16,0.32,0.48,0.64,0.8,0.96,1.12,1.28,1.44,1.6,1.73,1.745]],
 ['B2',[2.1,0,-2.1],[1.37,1.38,1.39]],
 ['C0',[0.99,0.95,0.6,0,-0.3,0.1,0.6,0.85,0.95,0.95,1.0,1.0,1.0,0.9]],
 ['C2',[0.99,0.9,0.3,-0.7,-0.8,-0.8,-0.75,-0.6,-0.2,0.3,0.7,0.95,0.95,0.9]],
 ['C1',[0.99,0.9,0.2,-0.8,-1.25,-1.55,-1.65,-2.0,-2.3,-2.5,-2.5,-2.5,-2.5,-2.5]],
 ['C5',[0.99,0.9,0.2,-0.7,-1.0,-1.3,-1.5,-1.95,-2.3,-2.5,-2.5,-2.5,-2.5,-2.5]],
 ['D5',[0.99,0.85,0.1,-1.1,-1.2,-1.3,-1.75,-1.9,-2.2,-2.5,-2.5,-2.5,-1.84,0]],
 ['D1',[0.99,0.85,0.1,-1.0,-1.3,-1.45,-1.75,-1.95,-2.3,-2.5,-2.5,-2.5,-2.5,-2.5]],
 ['A3',[0.99,0.9,0.5,-0.3,-0.6,-0.3,0.5,0.9,0.8,0.3,-0.5,-0.85,-0.5,0.1]],
 ['A4',[0.99,0.95,0.9,0.6,-0.1,-0.6,0,0.7,0.6,0,-0.5,-0.8,-0.3,0.3]],
 ['B3',[0.99,0.9,0.45,-0.4,-0.5,-0.2,0.4,0.95,0.9,0.5,-0.2,-0.7,-0.7,-0.2]],
 ['B4',[0.99,0.9,0.4,-0.5,-0.55,-0.4,0.2,0.7,0.95,0.7,0,-0.6,-0.85,-0.5]],
 ['D4',[0.99,0.95,0.5,-0.1,-0.6,-0.4,0,0.2,0.3,0.1,0.2,-0.1,-0.1,0]],
 ['D0',[0.99,0.9,0.3,-0.6,-0.7,-0.5,-0.1,0.2,0.2,0.2,0.15,-0.05,-0.1,0.05]]
];
const fpRealE = [
 ['K',[0,-0.02,0.02,0.17,0.06,0,-0.05,-0.06,0.13,0.03,-0.04,-0.07,-0.08,0.1,0,-0.06,-0.1,-0.05,0.06,-0.03,-0.1,-0.11,0.02,0,-0.08,-0.12],[0,0.28,0.3,0.32,0.35,0.4,0.6,0.7,0.73,0.77,0.82,1.05,1.1,1.13,1.17,1.25,1.45,1.48,1.5,1.54,1.7,1.8,1.83,1.85,1.9,2.0]],
 ['G',[0,0,0,0,0,0,0,0,0,0,0,0,0,0]],
 ['L',[0,0,0,0,0,0,0,0,0,0,0,0,0,0]],
 ['C5',[0,0.15,0.5,1.1,1.2,0.5,0.3,0.18,1.1,1.3,1.3,0.5,0.3,0.82,1.1,0.3,-0.2,-0.2,-0.05,0.07,0.33,0.3],[0,0.16,0.24,0.3,0.4,0.48,0.56,0.64,0.72,0.8,0.96,1.12,1.2,1.28,1.36,1.44,1.52,1.6,1.68,1.76,1.92,2.0]],
 ['C1',[0,0.1,0.3,1.5,0.2,0,-0.2,0,1.3,0.5,-0.2,-0.3,-0.15,-0.1]],
 ['A5',[0,0.05,0.2,0.5,1.2,0.2,-0.1,-0.1,-0.05,0,0.1,0.3,1.2,1.5]],
 ['A1',[0,0.02,0.05,-0.1,-0.6,-0.75,-0.85,-1.2,-1.5,-1.5,-1.5,-1.5,-1.5,-1.5]],
 ['A2',[0,0.05,0.3,1.5,0.1,-0.4,-0.9,0.24,1.3,1.5,0.5,-0.1,-0.2,-0.1]],
 ['D5',[0,0.05,0.35,0.7,0.5,1.0,0.45,0.5,1.0,1.3,1.4,1.2,0.1,-0.2]],
 ['B5',[0,0.05,0.3,0.8,1.0,1.2,1.4,1.5,1.5,1.5,1.5,1.5,1.5,1.5]],
 ['C4',[0,0,-0.02,-0.05,-0.08,-0.1,-0.12,-0.14,-0.17,-0.2,-0.22,-0.24,-0.25,-0.26]],
 ['B4',[0,-0.01,-0.05,-0.12,-0.25,-0.27,-0.35,-0.4,-0.42,-0.45,-0.48,-0.5,-0.52,-0.52]],
 ['D4',[0,-0.01,-0.06,-0.15,-0.25,-0.28,-0.36,-0.42,-0.45,-0.48,-0.5,-0.53,-0.55,-0.55]],
 ['A4',[0,0,-0.02,-0.05,-0.5,-0.9,-1.2,-1.5,-1.5,-1.5,-1.5,-1.5,-1.5,-1.5]],
 ['C0',[0,0.05,0.6,1.5,1.3,0.3,-0.1,-0.15,-0.3,-0.2,-0.1,0,-0.05,-0.1]],
 ['D1',[0,0.02,0.2,0.9,1.5,1.0,0.6,1.5,0.4,-0.1,-0.15,-0.18,-0.2,-0.2]]
];

// ---------------- STYLE & LAYOUT ----------------
const FAM = {A:'#ff7f0e', B:'#ffbb78', C:'#1f77b4', D:'#aec7e8'};
const MK  = ['crossRot','circle','circle','circle','triangle','rectRot'];
const MR  = [3.6,3.6,2.5,3.4,4.3,4.3];
function styleOf(k){
  if(k==='K') return {color:'#000', m:false, r:0, w:3, rank:100};
  if(k==='R') return {color:'#d62728', m:'crossRot', r:3.6, w:1.8, rank:97};
  if(k==='G') return {color:'#2ca02c', m:'crossRot', r:3.6, w:1.8, rank:98};
  if(k==='L') return {color:'#98df8a', m:'crossRot', r:3.6, w:1.8, rank:99};
  const f=k[0], i=+k[1];
  return {color:FAM[f], m:MK[i], r:MR[i], rot:i===4?180:0, w:1.8, rank:'ABCD'.indexOf(f)*6+i, idx:i};
}
const COLS = [108, 511, 914];
const PW = 370;
const ROWS = [[121,116],[247,118],[377,115],[510,117],[638,115],[766,116]];
const ROWCFG = [
 {min:-0.2, max:0.2,  ticks:cpQ0Ticks, labels:cpQ0Labels, it:false, lab:'<i>q</i><sub>0</sub>'},
 {min:-1.97,max:2.03, ticks:piTicks,   labels:piLabels,   it:false, lab:'<i>q</i><sub>1</sub>'},
 {min:-1.8, max:1,    ticks:eTicks,    labels:eLabels,    it:true,  lab:'<i>E</i>'},
 {min:-1.57,max:1.6,  ticks:piTicks,   labels:pi4Labels,  it:false, lab:'<i>q</i><sub>0</sub>'},
 {min:-1.93,max:2.03, ticks:piTicks,   labels:piLabels,   it:false, lab:'<i>q</i><sub>1</sub>'},
 {min:-1,   max:1,    ticks:eTicks,    labels:eLabels,    it:true,  lab:'<i>E</i>'}
];
const PANELS = [
 [cpUniQ0,cpTrajQ0,cpRealQ0],
 [cpUniQ1,cpTrajQ1,cpRealQ1],
 [cpUniE, cpTrajE, cpRealE],
 [fpUniQ0,fpTrajQ0,fpRealQ0],
 [fpUniQ1,fpTrajQ1,fpRealQ1],
 [fpUniE, fpTrajE, fpRealE]
];

const framePlugin = {id:'frame', afterDraw(c){
  const a=c.chartArea, x=c.ctx; x.save(); x.strokeStyle='#000'; x.lineWidth=1.1;
  x.strokeRect(a.left, a.top, a.right-a.left, a.bottom-a.top); x.restore();
}};

function isMarkerX(x){ const k=Math.round(x/0.16); return Math.abs(x-k*0.16)<1e-6 && x<1.95; }

function buildDatasets(rows){
  const ds = rows.map(row=>{
    const [k, ys, xsIn] = row;
    const xs = xsIn || (k==='K' ? TB : T);
    const st = styleOf(k);
    const pts = ys.map((y,i)=>({x:xs[i], y:y}));
    return {st, d:{
      data: pts, borderColor: st.color, backgroundColor: st.color, borderWidth: st.w,
      pointStyle: st.m || 'circle', pointRotation: st.rot||0,
      pointRadius: st.m ? (ctx => (ctx.raw && isMarkerX(ctx.raw.x)) ? st.r : 0) : 0,
      pointBackgroundColor: st.color, pointBorderColor: st.color,
      pointBorderWidth: st.m==='crossRot' ? 1.6 : 0.6,
      tension: 0.38, fill:false, clip:0, spanGaps:true
    }};
  });
  ds.sort((a,b)=>b.st.rank-a.st.rank);
  return ds.map(o=>o.d);
}

Chart.defaults.font.family = "'Liberation Serif', 'DejaVu Serif', serif";

function makePanel(r, c){
  const [top, h] = ROWS[r]; const left = COLS[c]; const cfg = ROWCFG[r];
  const bottomRow = (r===5);
  const L=60, R=20, TP=22, B = bottomRow ? 34 : 22;
  const cv = document.createElement('canvas');
  cv.width = L+PW+R; cv.height = TP+h+B;
  cv.style.left = (left-L)+'px'; cv.style.top = (top-TP)+'px';
  document.body.appendChild(cv);
  new Chart(cv, {
    type:'line',
    data:{datasets: buildDatasets(PANELS[r][c])},
    options:{
      responsive:false, animation:false, events:[],
      layout:{padding:{left:0,right:R,top:TP,bottom:0}},
      plugins:{legend:{display:false}, tooltip:{enabled:false}},
      scales:{
        x:{type:'linear', min:0, max:2,
           afterBuildTicks:s=>{s.ticks = xTicks.map(v=>({value:v}));},
           afterFit:s=>{s.height=B;},
           grid:{color:'#b0b0b0', lineWidth:1, tickLength:5, tickColor:'#000', drawTicks:true},
           border:{display:false},
           ticks:{display:bottomRow, color:'#000', padding:4, maxRotation:0, autoSkip:false,
                  font:{size:17}, callback:(v,i)=>xTickLabels[i]}},
        y:{type:'linear', min:cfg.min, max:cfg.max,
           afterBuildTicks:s=>{s.ticks = cfg.ticks.map(v=>({value:v}));},
           afterFit:s=>{s.width=L;},
           grid:{color:'#b0b0b0', lineWidth:1, tickLength:5, tickColor:'#000', drawTicks:true},
           border:{display:false},
           ticks:{display:c===0, color:'#000', padding:7, autoSkip:false,
                  font:{size:17, style: cfg.it?'italic':'normal'}, callback:(v,i)=>cfg.labels[i]}}
      }
    },
    plugins:[framePlugin]
  });
}
for(let r=0;r<6;r++) for(let c=0;c<3;c++) makePanel(r,c);

// ---------------- TEXT ----------------
function addText(cls, html, x, y){
  const d=document.createElement('div'); d.className='t '+cls; d.innerHTML=html;
  d.style.left=x+'px'; if(y!==null) d.style.top=y+'px'; document.body.appendChild(d); return d;
}
colTitles.forEach((t,i)=>addText('title', t, COLS[i]+PW/2, null));
ROWS.forEach((rw,i)=>addText('ylab', ROWCFG[i].lab, 59, rw[0]+rw[1]/2));
addText('rowlab','Cartpole', 22, 306);
addText('rowlab','Furuta Pendulum', 22, 697);
COLS.forEach(x=>addText('xlab', "Time [<i style=\"font-family:'Liberation Serif',serif;font-size:18px\">s</i>]", x+PW/2, null));

// legend
const LEG = [
 {x:252, items:[['no-Kin DiffNEA','A0'],['no-Kin DiffNEA Viscous','A1'],['no-Kin DiffNEA Stribeck','A2'],['no-Kin DiffNEA NN-Residual','A3'],['no-Kin DiffNEA NN-Friction','A4'],['no-Kin DiffNEA FF-NN','A5']]},
 {x:477, items:[['no-Kin DiffNEA','B0'],['no-Kin DiffNEA Viscous','B1'],['no-Kin DiffNEA Stribeck','B2'],['no-Kin DiffNEA NN-Residual','B3'],['no-Kin DiffNEA NN-Friction','B4'],['no-Kin DiffNEA FF-NN','B5']]},
 {x:703, items:[['DiffNEA','C0'],['DiffNEA Viscous','C1'],['DiffNEA Stribeck','C2'],['DiffNEA NN-Residual','C3'],['DiffNEA NN-Friction','C4'],['DiffNEA FF-NN','C5']]},
 {x:895, items:[['DiffNEA','D0'],['DiffNEA Viscous','D1'],['DiffNEA Stribeck','D2'],['DiffNEA NN-Residual','D3'],['DiffNEA NN-Friction','D4'],['DiffNEA FF-NN','D5']]},
 {x:1087,items:[['FF-NN','R'],['NEA','G'],['NEA','L'],['Baseline','K']]}
];
function legSvg(k){
  const st=styleOf(k), c=st.color;
  if(k==='K') return '<svg width="22" height="10"><line x1="0" y1="5" x2="21" y2="5" stroke="#000" stroke-width="2.8"/></svg>';
  let m='';
  const i = (k==='R'||k==='G'||k==='L') ? 0 : st.idx;
  if(i===0) m=`<path d="M7.5 1.5L14.5 8.5M14.5 1.5L7.5 8.5" stroke="${c}" stroke-width="1.6"/>`;
  else if(i===1) m=`<circle cx="11" cy="5" r="3.6" fill="${c}"/>`;
  else if(i===2) m=`<polygon points="11,2.3 13.6,4.2 12.6,7.3 9.4,7.3 8.4,4.2" fill="${c}"/>`;
  else if(i===3) m=`<polygon points="11,1.2 14.3,3.1 14.3,6.9 11,8.8 7.7,6.9 7.7,3.1" fill="${c}"/>`;
  else if(i===4) m=`<polygon points="7,1.5 15,1.5 11,8.5" fill="${c}"/>`;
  else m=`<polygon points="11,0.5 15,5 11,9.5 7,5" fill="${c}"/>`;
  return `<svg width="22" height="10"><line x1="0" y1="5" x2="21" y2="5" stroke="${c}" stroke-width="1.8"/>${m}</svg>`;
}
const LEG_Y = [-2,12.5,27,41.5,56,70.5];
LEG.forEach(col=>col.items.forEach((it,j)=>{
  const d=document.createElement('div'); d.className='leg';
  d.style.left=col.x+'px'; d.style.top=LEG_Y[j]+'px';
  d.innerHTML = legSvg(it[1]) + '<span>'+it[0]+'</span>';
  document.body.appendChild(d);
}));
</script>
</body></html>
